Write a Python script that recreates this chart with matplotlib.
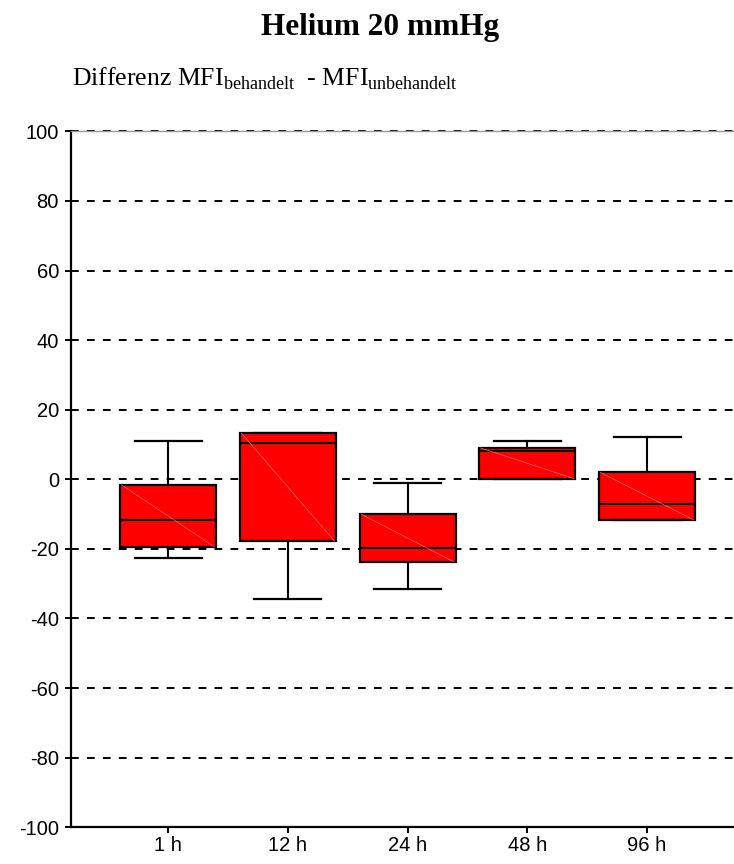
import matplotlib.pyplot as plt

# Differenz MFI je Zeitpunkt (Helium 20 mmHg)
labels = ['1 h', '12 h', '24 h', '48 h', '96 h']
whisker_low = [-22.5, -34.5, -31.5, 0.0, -11.7]
q1 = [-19.5, -17.8, -23.8, 0.2, -11.7]
median = [-11.8, 10.3, -19.6, 8.0, -7.0]
q3 = [-1.6, 13.3, -10.0, 9.0, 2.0]
whisker_high = [10.9, 13.3, -1.0, 10.9, 12.1]

plt.rcParams['font.family'] = ['Liberation Sans', 'DejaVu Sans']
plt.rcParams['mathtext.fontset'] = 'custom'
plt.rcParams['mathtext.rm'] = 'Liberation Serif'
plt.rcParams['axes.unicode_minus'] = False

fig = plt.figure(figsize=(7.34, 8.64), dpi=100)
ax = fig.add_axes([0.0963, 0.0425, 0.9037, 0.8055])

stats = []
for i in range(len(labels)):
    stats.append({'whislo': whisker_low[i], 'q1': q1[i], 'med': median[i],
                  'q3': q3[i], 'whishi': whisker_high[i], 'fliers': []})

pos = list(range(1, len(labels) + 1))
ax.bxp(stats, positions=pos, widths=0.8, capwidths=0.56, patch_artist=True,
       showfliers=False,
       boxprops=dict(facecolor='#ff0000', edgecolor='black', linewidth=1.6),
       medianprops=dict(color='black', linewidth=1.5),
       whiskerprops=dict(color='black', linewidth=1.5),
       capprops=dict(color='black', linewidth=1.6),
       zorder=3)

# feine Diagonale in den Boxen
for i, p in enumerate(pos):
    ax.plot([p - 0.39, p + 0.39], [q3[i], q1[i]], color='#ff7070',
            linewidth=0.5, zorder=4)

ax.set_xlim(0.185, 5.726)
ax.set_ylim(-100, 100)
ax.set_yticks(range(-100, 101, 20))
ax.set_xticks(pos)
ax.set_xticklabels(labels)

for y in range(-80, 101, 20):
    ax.axhline(y, color='black', linewidth=1.4, linestyle=(0, (4.0, 4.2)),
               zorder=1, clip_on=False)

ax.spines['right'].set_visible(False)
ax.spines['top'].set_color('#999999')
ax.spines['top'].set_linewidth(1.0)
ax.spines['left'].set_linewidth(1.6)
ax.spines['bottom'].set_linewidth(1.6)
ax.tick_params(axis='both', labelsize=14.5, width=1.4, length=4.5, direction='out', pad=4)
ax.tick_params(axis='x', pad=2)

fig.text(0.518, 0.9595, 'Helium 20 mmHg', ha='center', va='baseline',
         fontsize=22.5, fontweight='bold', family='Liberation Serif')
fig.text(0.0977, 0.9005,
         r'Differenz MFI$_{\mathrm{behandelt}}$  - MFI$_{\mathrm{unbehandelt}}$',
         ha='left', va='baseline', fontsize=18.5, family='Liberation Serif')

fig.savefig('out.png', dpi=100)
